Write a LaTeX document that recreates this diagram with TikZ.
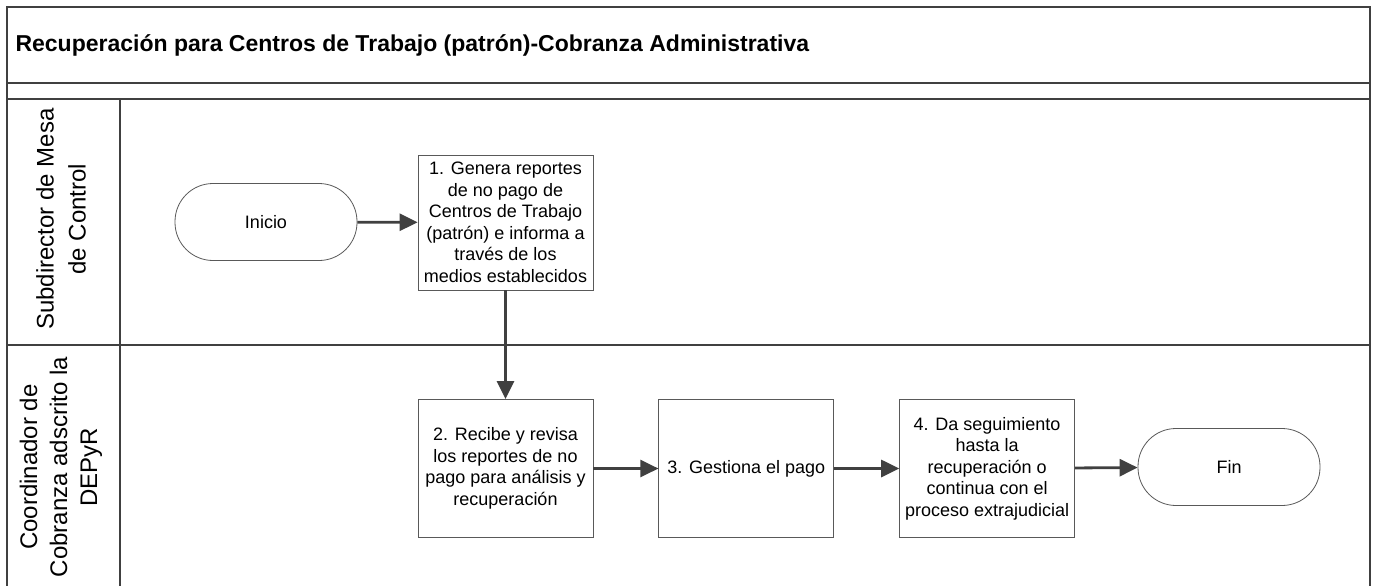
\documentclass[tikz,border=0pt]{standalone}
\usepackage{fontspec}
\setmainfont{Liberation Sans}
\usetikzlibrary{positioning,arrows.meta}

\definecolor{linea}{HTML}{404040}

\begin{document}
\begin{tikzpicture}[x=1pt,y=-1pt,
    marco/.style={draw=linea, line width=2.5pt},
    paso/.style={draw=black!65, line width=0.8pt, fill=white, minimum width=175pt,
      minimum height=138pt, align=center, inner sep=2pt,
      font=\fontsize{18}{21.5}\selectfont},
    terminal/.style={draw=black!65, line width=0.8pt, fill=white, rounded corners=38pt,
      minimum width=182pt, minimum height=77pt, font=\fontsize{18}{21.5}\selectfont},
    flecha/.style={draw=linea, line width=2.8pt, -{Triangle[length=18pt,width=17pt]}},
    carril/.style={rotate=90, align=center, font=\fontsize{24}{32}\selectfont}
  ]
    \useasboundingbox (0,0) rectangle (1377,586);
    % ---- Frame and lanes ----
    \draw[marco] (7,590) -- (7,7) -- (1370,7) -- (1370,590);
    \draw[marco] (7,83) -- (1370,83);
    \draw[marco] (7,99) -- (1370,99);
    \draw[marco] (7,345) -- (1370,345);
    \draw[draw=linea, line width=2pt] (120,99) -- (120,590);
    \node[anchor=west, font=\fontsize{23}{27}\bfseries] (titulo) at (12,45)
      {Recuperación para Centros de Trabajo (patrón)-Cobranza Administrativa};
    \node[carril] (subdirector) at (61,219) {Subdirector de Mesa\\de Control};
    \node[carril, font=\fontsize{24}{30}\selectfont] (coordinador) at (61,467)
      {Coordinador de\\Cobranza adscrito la\\DEPyR};
    % ---- Steps ----
    \node[terminal] (inicio) at (266,222) {Inicio};
    \node[paso, minimum height=135pt] (genera) at (505.5,222.5)
      {1. Genera reportes\\de no pago de\\Centros de Trabajo\\(patrón) e informa a\\través de los\\medios establecidos};
    \node[paso] (recibe) at (505.5,468.5)
      {2. Recibe y revisa\\los reportes de no\\pago para análisis y\\recuperación};
    \node[paso, right=65pt of recibe] (gestiona) {3. Gestiona el pago};
    \node[paso, right=65pt of gestiona] (seguimiento)
      {4. Da seguimiento\\hasta la\\recuperación o\\continua con el\\proceso extrajudicial};
    \node[terminal] (fin) at (1229,467) {Fin};
    % ---- Connectors ----
    \draw[flecha] (inicio) -- (genera);
    \draw[flecha] (genera) -- (recibe);
    \draw[flecha] (recibe) -- (gestiona);
    \draw[flecha] (gestiona) -- (seguimiento);
    \draw[flecha] (seguimiento) -- (fin);
\end{tikzpicture}
\end{document}
